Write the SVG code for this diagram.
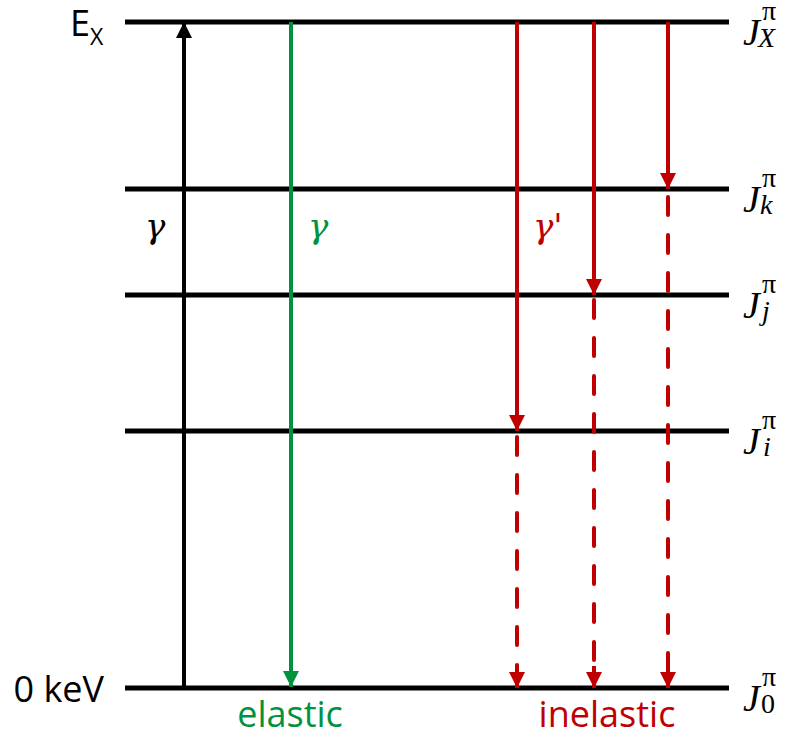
<svg xmlns="http://www.w3.org/2000/svg" width="788" height="736" viewBox="0 0 788 736">
<style>
.lvl{stroke:#000;stroke-width:5}
.lab{font-family:"Open Sans","Noto Sans",sans-serif;font-size:36px}
.m{font-family:"DejaVu Serif","Liberation Serif",serif;font-style:italic}
.j{font-family:"Liberation Serif","DejaVu Serif",serif;font-size:38px;font-style:italic}
.pi{font-style:normal;font-size:28px}
.sub{font-size:28px}
.red{stroke:#C00000;stroke-width:4;fill:none}
.dash{stroke-dasharray:18 20;stroke-linecap:round}
</style>
<defs>
<marker id="ab" markerUnits="userSpaceOnUse" markerWidth="16" markerHeight="16" refX="16" refY="8" orient="auto"><path d="M0,0 L16,8 L0,16 Z" fill="#000"/></marker>
<marker id="ag" markerUnits="userSpaceOnUse" markerWidth="16" markerHeight="16" refX="16" refY="8" orient="auto"><path d="M0,0 L16,8 L0,16 Z" fill="#00923F"/></marker>
<marker id="ar" markerUnits="userSpaceOnUse" markerWidth="16" markerHeight="16" refX="16" refY="8" orient="auto"><path d="M0,0 L16,8 L0,16 Z" fill="#C00000"/></marker>
</defs>
<g id="levels">
<g id="level-X"><line class="lvl" x1="125" y1="22" x2="729" y2="22"/></g>
<g id="level-k"><line class="lvl" x1="125" y1="189" x2="729" y2="189"/></g>
<g id="level-j"><line class="lvl" x1="125" y1="295" x2="729" y2="295"/></g>
<g id="level-i"><line class="lvl" x1="125" y1="431" x2="729" y2="431"/></g>
<g id="level-0"><line class="lvl" x1="125" y1="688" x2="729" y2="688"/></g>
</g>
<g id="connectors">
<line x1="184" y1="688" x2="184" y2="22" stroke="#000" stroke-width="4" marker-end="url(#ab)"/>
<line x1="291" y1="22" x2="291" y2="687" stroke="#00923F" stroke-width="4" marker-end="url(#ag)"/>
<line class="red" x1="517" y1="22" x2="517" y2="431" marker-end="url(#ar)"/>
<line class="red dash" x1="517" y1="437" x2="517" y2="672"/>
<line class="red" x1="517" y1="666" x2="517" y2="688" marker-end="url(#ar)"/>
<line class="red" x1="594" y1="22" x2="594" y2="295" marker-end="url(#ar)"/>
<line class="red dash" x1="594" y1="300" x2="594" y2="672"/>
<line class="red" x1="594" y1="666" x2="594" y2="688" marker-end="url(#ar)"/>
<line class="red" x1="668" y1="22" x2="668" y2="189" marker-end="url(#ar)"/>
<line class="red dash" x1="668" y1="197" x2="668" y2="672"/>
<line class="red" x1="668" y1="666" x2="668" y2="688" marker-end="url(#ar)"/>
</g>
<g id="left-labels">
<text class="lab" x="70" y="36">E<tspan font-size="23" dy="9">X</tspan></text>
<text class="lab" x="104" y="702" text-anchor="end">0 keV</text>
</g>
<g id="gamma-labels">
<text class="m" x="145" y="238" font-size="34">γ</text>
<text class="m" x="308" y="238" font-size="34" fill="#00923F">γ</text>
<text class="m" x="533" y="238" font-size="34" fill="#C00000">γ'</text>
</g>
<g id="bottom-labels">
<text class="lab" x="290" y="727" text-anchor="middle" fill="#00923F">elastic</text>
<text class="lab" x="607" y="727" text-anchor="middle" fill="#C00000">inelastic</text>
</g>
<g id="right-labels">
<text class="j" x="743" y="45">J<tspan class="pi" x="762" y="20">π</tspan><tspan class="sub" x="758" y="47">X</tspan></text>
<text class="j" x="743" y="212">J<tspan class="pi" x="762" y="187">π</tspan><tspan class="sub" x="760" y="214">k</tspan></text>
<text class="j" x="743" y="318">J<tspan class="pi" x="762" y="293">π</tspan><tspan class="sub" x="762" y="320">j</tspan></text>
<text class="j" x="743" y="454">J<tspan class="pi" x="762" y="429">π</tspan><tspan class="sub" x="763" y="456">i</tspan></text>
<text class="j" x="743" y="711">J<tspan class="pi" x="762" y="686">π</tspan><tspan class="sub" font-style="normal" x="761" y="713">0</tspan></text>
</g>
</svg>
